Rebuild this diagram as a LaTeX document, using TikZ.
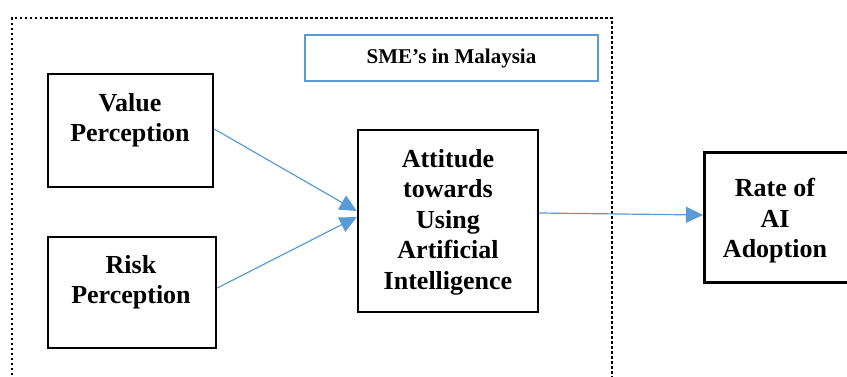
\documentclass[tikz,border=0pt]{standalone}
\usepackage{fontspec}
\setmainfont{Liberation Serif}
\usetikzlibrary{arrows.meta,calc}
\definecolor{arrblue}{HTML}{5B9BD5}
\begin{document}
\begin{tikzpicture}[x=1pt,y=-1pt,
  box/.style={draw=black,line width=2.5pt,inner sep=0pt},
  lbl/.style={inner sep=0pt,align=center,font=\fontsize{26}{30.5}\selectfont\bfseries},
  conn/.style={draw=arrblue,line width=1.2pt,-{Triangle[length=17pt,width=16pt]}},
  frame/.style={line width=2.5pt,dash pattern=on 2.5pt off 2.5pt}]
\useasboundingbox (0,0) rectangle (847,376);
% dotted frame (bottom edge outside the picture)
\coordinate (f1) at (12,380);
\coordinate (f2) at (12,18);
\coordinate (f3) at (612,18);
\coordinate (f4) at (612,380);
\draw[frame] (f1) -- (f2) -- (f3) -- (f4);
% SME box
\node[draw=arrblue,line width=2pt,minimum width=293pt,minimum height=46pt,
      font=\fontsize{21}{25}\selectfont\bfseries,inner sep=0pt] (sme) at (451.5,58) {SME’s in Malaysia};
% boxes
\node[box,minimum width=165pt,minimum height=113pt] (val) at (130.5,130.5) {};
\node[box,minimum width=168pt,minimum height=111pt] (risk) at (132,292.5) {};
\node[box,minimum width=180pt,minimum height=182pt] (att) at (448,221) {};
\node[box,minimum width=144pt,minimum height=130pt,anchor=west] (rate) at (703,217.5) {};
% labels
\node[lbl] (valt) at (130,120) {Value\\Perception};
\node[lbl] (riskt) at (131,282) {Risk\\Perception};
\node[lbl] (attt) at (448,222) {Attitude\\towards\\Using\\Artificial\\Intelligence};
\node[lbl] (ratet) at (775,221) {Rate of\\AI\\Adoption};
% connectors
\draw[conn] ([yshift=1.5pt]val.east) -- ([yshift=10pt]att.west);
\draw[conn] ([yshift=4.5pt]risk.east) -- ([yshift=4pt]att.west);
\draw[conn] ([yshift=8pt]att.east) -- ([yshift=2.5pt]rate.west);
\end{tikzpicture}
\end{document}
